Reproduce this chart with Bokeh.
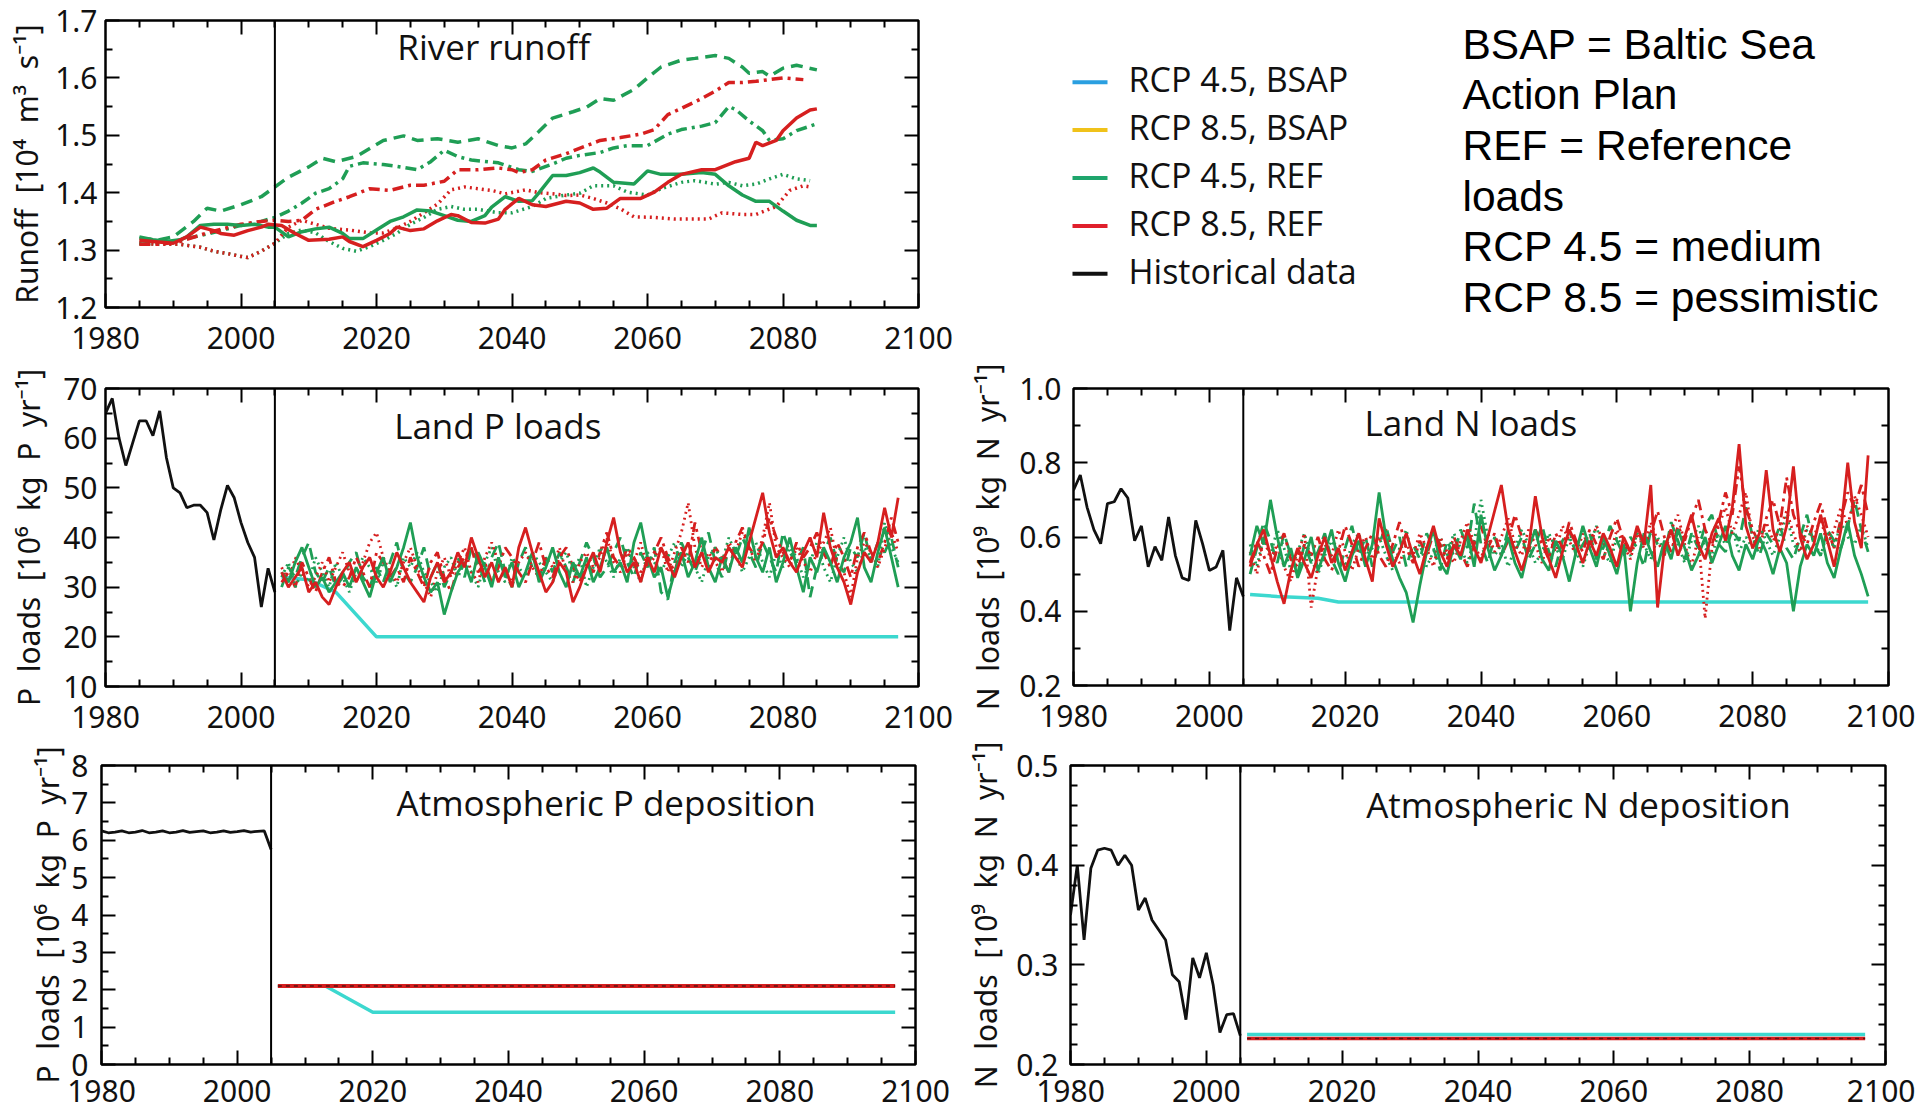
from bokeh.plotting import figure
from bokeh.models import (Range1d, LinearAxis, FixedTicker, PrintfTickFormatter, Grid,
                          Span, Label)
from bokeh.layouts import column, row
from bokeh.embed import file_html
from bokeh.resources import INLINE

# ---------------------------------------------------------------- data
SPLIT_YEAR = 2005
YEARS_HIST = list(range(1980, 2006))
YEARS_PROJ = list(range(2006, 2098))

X_TICKS = [1980, 2000, 2020, 2040, 2060, 2080, 2100]
X_MINOR = [1985, 1990, 1995, 2005, 2010, 2015, 2025, 2030, 2035, 2045, 2050, 2055,
           2065, 2070, 2075, 2085, 2090, 2095]
RUNOFF_TICKS = [1.2, 1.3, 1.4, 1.5, 1.6, 1.7]
RUNOFF_MINOR = [1.25, 1.35, 1.45, 1.55, 1.65]
LANDP_TICKS = [10, 20, 30, 40, 50, 60, 70]
LANDP_MINOR = [15, 25, 35, 45, 55, 65]
LANDN_TICKS = [0.2, 0.4, 0.6, 0.8, 1.0]
LANDN_MINOR = [0.3, 0.5, 0.7, 0.9]
ATMP_TICKS = [0, 1, 2, 3, 4, 5, 6, 7, 8]
ATMP_MINOR = [0.5, 1.5, 2.5, 3.5, 4.5, 5.5, 6.5, 7.5]
ATMN_TICKS = [0.2, 0.3, 0.4, 0.5]
ATMN_MINOR = [0.22, 0.24, 0.26, 0.28, 0.32, 0.34, 0.36, 0.38, 0.42, 0.44, 0.46, 0.48]

# River runoff (10^4 m3 s-1), (year, value) pairs
RUNOFF_G_SOLID = [(1985,1.323),(1987,1.318),(1989,1.315),(1991,1.318),(1992,1.323),(1994,1.343),(1996,1.345),(1998,1.345),(2000,1.343),(2002,1.345),(2004,1.340),(2005,1.340),(2007,1.323),(2009,1.332),(2011,1.337),(2013,1.340),(2015,1.329),(2016,1.320),(2018,1.320),(2020,1.335),(2022,1.350),(2024,1.358),(2026,1.370),(2028,1.368),(2030,1.360),(2032,1.352),(2034,1.350),(2036,1.360),(2037,1.375),(2039,1.393),(2041,1.385),(2043,1.386),(2044,1.400),(2046,1.430),(2048,1.430),(2050,1.435),(2052,1.443),(2053,1.436),(2055,1.418),(2058,1.415),(2060,1.438),(2062,1.432),(2065,1.432),(2068,1.435),(2070,1.432),(2072,1.412),(2074,1.396),(2076,1.385),(2078,1.385),(2080,1.368),(2082,1.352),(2084,1.343),(2085,1.343)]
RUNOFF_R_SOLID = [(1985,1.317),(1987,1.315),(1990,1.312),(1992,1.323),(1994,1.340),(1996,1.334),(1997,1.329),(1999,1.326),(2001,1.334),(2003,1.340),(2004,1.345),(2006,1.343),(2008,1.329),(2010,1.317),(2013,1.319),(2015,1.323),(2016,1.315),(2018,1.306),(2020,1.317),(2022,1.329),(2023,1.340),(2025,1.334),(2027,1.337),(2029,1.351),(2031,1.362),(2032,1.360),(2034,1.348),(2036,1.347),(2038,1.354),(2039,1.371),(2041,1.390),(2043,1.379),(2045,1.376),(2048,1.385),(2050,1.382),(2052,1.371),(2054,1.373),(2056,1.390),(2059,1.390),(2061,1.401),(2063,1.418),(2065,1.432),(2068,1.440),(2070,1.440),(2073,1.454),(2075,1.460),(2076,1.488),(2077,1.482),(2079,1.491),(2080,1.508),(2082,1.530),(2084,1.544),(2085,1.546)]
RUNOFF_G_DASH = [(1985,1.320),(1988,1.318),(1990,1.323),(1993,1.350),(1995,1.373),(1997,1.368),(2000,1.379),(2003,1.393),(2005,1.410),(2007,1.427),(2010,1.445),(2012,1.460),(2014,1.454),(2017,1.463),(2019,1.477),(2021,1.491),(2024,1.499),(2026,1.491),(2029,1.494),(2032,1.488),(2035,1.494),(2038,1.482),(2040,1.478),(2042,1.485),(2044,1.507),(2046,1.530),(2049,1.541),(2051,1.549),(2053,1.564),(2055,1.561),(2058,1.580),(2060,1.600),(2062,1.619),(2065,1.631),(2067,1.634),(2070,1.639),(2072,1.634),(2074,1.619),(2075,1.608),(2077,1.611),(2078,1.603),(2080,1.617),(2082,1.622),(2085,1.614)]
RUNOFF_R_DASHDOT = [(1985,1.310),(1988,1.310),(1991,1.315),(1995,1.330),(2000,1.345),(2003,1.350),(2005,1.352),(2007,1.350),(2009,1.352),(2011,1.371),(2014,1.385),(2016,1.393),(2019,1.407),(2022,1.404),(2025,1.413),(2027,1.413),(2030,1.420),(2032,1.440),(2035,1.440),(2038,1.443),(2040,1.440),(2041,1.435),(2043,1.440),(2045,1.457),(2048,1.468),(2051,1.482),(2053,1.491),(2056,1.496),(2059,1.502),(2061,1.510),(2063,1.536),(2065,1.547),(2068,1.564),(2070,1.577),(2072,1.592),(2074,1.592),(2076,1.594),(2078,1.597),(2080,1.600),(2083,1.597)]
RUNOFF_G_DASHDOT = [(1985,1.310),(1990,1.315),(1995,1.328),(2000,1.343),(2003,1.350),(2005,1.357),(2007,1.368),(2009,1.382),(2011,1.399),(2013,1.407),(2015,1.424),(2016,1.446),(2018,1.452),(2021,1.449),(2023,1.446),(2026,1.440),(2028,1.454),(2030,1.474),(2032,1.463),(2034,1.457),(2038,1.452),(2041,1.440),(2043,1.437),(2046,1.450),(2048,1.460),(2050,1.465),(2053,1.470),(2055,1.478),(2057,1.482),(2060,1.482),(2063,1.502),(2065,1.510),(2068,1.516),(2070,1.522),(2072,1.550),(2073,1.545),(2075,1.525),(2077,1.508),(2078,1.491),(2080,1.494),(2082,1.508),(2084,1.516),(2085,1.520)]
RUNOFF_G_DOT = [(1985,1.312),(1988,1.310),(1991,1.310),(1994,1.305),(1996,1.298),(1998,1.294),(2000,1.289),(2001,1.287),(2003,1.298),(2005,1.312),(2007,1.329),(2009,1.335),(2011,1.330),(2013,1.315),(2015,1.303),(2017,1.298),(2019,1.306),(2021,1.317),(2023,1.329),(2025,1.345),(2027,1.357),(2029,1.371),(2031,1.376),(2033,1.371),(2035,1.371),(2038,1.365),(2040,1.365),(2043,1.376),(2045,1.390),(2048,1.396),(2050,1.399),(2052,1.412),(2055,1.412),(2057,1.401),(2060,1.396),(2062,1.407),(2065,1.418),(2067,1.421),(2070,1.415),(2072,1.418),(2074,1.412),(2076,1.415),(2078,1.424),(2080,1.432),(2082,1.424),(2084,1.421)]
RUNOFF_R_DOT = [(1985,1.312),(1988,1.310),(1991,1.310),(1994,1.305),(1996,1.298),(1998,1.294),(2000,1.289),(2001,1.287),(2003,1.298),(2005,1.312),(2007,1.340),(2009,1.352),(2011,1.345),(2013,1.338),(2016,1.335),(2019,1.330),(2021,1.330),(2023,1.338),(2025,1.350),(2027,1.365),(2029,1.380),(2031,1.405),(2033,1.410),(2035,1.407),(2037,1.404),(2039,1.398),(2042,1.405),(2044,1.400),(2046,1.398),(2048,1.395),(2050,1.396),(2052,1.390),(2054,1.382),(2056,1.372),(2058,1.358),(2061,1.357),(2064,1.354),(2067,1.354),(2069,1.354),(2071,1.365),(2074,1.362),(2076,1.362),(2079,1.376),(2081,1.404),(2083,1.412),(2084,1.410)]

# Land P loads (10^6 kg P yr-1)
LANDP_HIST = [65, 68, 60, 54.5, 59, 63.5, 63.5, 60.5, 65.5, 56, 50, 49, 46, 46.5, 46.5, 45, 39.5, 45.5, 50.5, 48, 43, 39, 36, 26, 33.8, 29]
LANDP_G_SOLID = [33, 31, 35, 38, 34, 30, 32, 29, 31, 33,
                 30, 34, 31, 28, 33, 36, 31, 34, 38, 43,
                 36, 32, 29, 31, 24.5, 29, 33, 35, 31, 37,
                 34, 30, 36, 32, 35, 30, 33, 37, 31, 34,
                 38, 33, 30, 35, 32, 36, 31, 34, 38, 33,
                 35, 31, 39, 43, 36, 32, 34, 28, 33, 37,
                 32, 35, 40, 34, 31, 36, 33, 38, 35, 42,
                 36, 33, 38, 31, 35, 40, 34, 29, 36, 33,
                 38, 35, 31, 36, 39, 44, 34, 31, 37, 42,
                 36, 30]
LANDP_G_DASH = [30, 34, 32, 36, 39, 33, 31, 34, 30, 32,
                35, 37, 32, 30, 34, 31, 35, 39, 33, 31,
                34, 38, 32, 35, 30, 33, 36, 32, 38, 35,
                31, 36, 39, 33, 30, 35, 38, 34, 32, 36,
                33, 37, 34, 31, 35, 39, 36, 32, 34, 37,
                40, 35, 32, 37, 34, 38, 29, 27.5, 35, 39,
                36, 33, 37, 41, 35, 32, 38, 36, 40, 37,
                34, 39, 36, 33, 41, 37, 35, 38, 28, 34,
                37, 40, 35, 33, 38, 36, 41, 35, 39, 37,
                40, 34]
LANDP_G_DOT = [32, 35, 30, 33, 31, 36, 33, 30, 35, 32,
               29, 33, 36, 34, 31, 35, 33, 30, 36, 34,
               37, 33, 31, 29, 34, 36, 32, 35, 33, 30,
               35, 38, 33, 31, 36, 34, 32, 37, 35, 33,
               31, 35, 37, 33, 36, 30, 34, 38, 35, 32,
               36, 38, 34, 31, 37, 35, 33, 36, 39, 34,
               37, 34, 31, 36, 38, 35, 40, 37, 33, 36,
               39, 35, 32, 37, 34, 38, 36, 32, 35, 39,
               34, 31, 36, 40, 35, 33, 38, 36, 34, 43,
               38, 35]
LANDP_R_SOLID = [33, 30, 32, 34, 29, 31, 28, 26.5, 30, 33,
                 35, 31, 34, 36, 32, 30, 33, 37, 34, 31,
                 29, 27, 32, 35, 31, 33, 37, 34, 40, 36,
                 32, 35, 31, 34, 30, 38, 42, 37, 33, 29,
                 31, 35, 33, 27, 30, 34, 37, 33, 39, 44,
                 37, 33, 35, 31, 36, 33, 38, 35, 32, 36,
                 39, 34, 37, 33, 36, 35, 38, 36, 34, 39,
                 44, 49, 41, 36, 38, 35, 33, 37, 40, 36,
                 45, 38, 34, 31, 26.5, 33, 37, 35, 39, 46,
                 40, 48]
LANDP_R_DOT = [34, 31, 36, 33, 30, 32, 35, 31, 34, 37,
               33, 31, 35, 39, 41, 36, 33, 31, 35, 38,
               34, 31, 28, 33, 36, 32, 35, 38, 33, 31,
               36, 39, 35, 33, 31, 35, 37, 34, 32, 36,
               34, 38, 33, 31, 35, 37, 34, 36, 40, 35,
               33, 37, 35, 39, 34, 36, 38, 33, 37, 41,
               47, 38, 34, 37, 35, 33, 39, 37, 41, 38,
               35, 40, 47, 38, 36, 34, 38, 35, 33, 37,
               39, 42, 35, 33, 28, 36, 39, 37, 34, 38,
               41, 37]
LANDP_R_DASHDOT = [31, 33, 30, 35, 32, 29, 33, 36, 31, 30,
                   32, 36, 33, 30, 37, 35, 32, 34, 31, 36,
                   33, 30, 35, 37, 32, 29, 34, 36, 38, 33,
                   35, 31, 34, 38, 36, 33, 31, 35, 39, 34,
                   32, 36, 38, 34, 31, 35, 33, 37, 41, 36,
                   34, 38, 36, 33, 35, 37, 40, 36, 33, 38,
                   35, 43, 37, 34, 38, 36, 33, 39, 42, 38,
                   36, 39, 44, 40, 37, 35, 39, 36, 38, 41,
                   37, 34, 39, 36, 32, 38, 41, 37, 35, 39,
                   44, 39]
LANDP_BSAP_YEARS = [2006, 2010, 2014, 2020, 2097]
LANDP_BSAP = [32, 31.5, 29, 20, 20]

# Land N loads (10^9 kg N yr-1)
LANDN_HIST = [0.726, 0.767, 0.68, 0.62, 0.582, 0.69, 0.695, 0.73, 0.705, 0.59, 0.63, 0.52, 0.574,
              0.537, 0.654, 0.55, 0.49, 0.483, 0.645, 0.582, 0.51, 0.519, 0.564, 0.348, 0.49, 0.44]
LANDN_G_SOLID = [0.55, 0.63, 0.58, 0.70, 0.60, 0.52, 0.57, 0.49, 0.54, 0.60,
                 0.51, 0.56, 0.62, 0.53, 0.48, 0.55, 0.59, 0.52, 0.58, 0.72,
                 0.60, 0.54, 0.49, 0.45, 0.37, 0.47, 0.56, 0.62, 0.53, 0.50,
                 0.58, 0.54, 0.61, 0.52, 0.66, 0.57, 0.51, 0.55, 0.60, 0.53,
                 0.49, 0.57, 0.62, 0.54, 0.51, 0.59, 0.55, 0.48, 0.56, 0.63,
                 0.57, 0.52, 0.60, 0.55, 0.50, 0.58, 0.40, 0.53, 0.61, 0.56,
                 0.52, 0.59, 0.54, 0.62, 0.57, 0.51, 0.55, 0.60, 0.53, 0.58,
                 0.63, 0.55, 0.51, 0.58, 0.54, 0.60, 0.56, 0.50, 0.57, 0.53,
                 0.40, 0.52, 0.58, 0.55, 0.61, 0.53, 0.49, 0.57, 0.64, 0.55,
                 0.50, 0.44]
LANDN_G_DASH = [0.50, 0.57, 0.64, 0.59, 0.53, 0.61, 0.55, 0.50, 0.58, 0.53,
                0.56, 0.61, 0.54, 0.50, 0.57, 0.63, 0.55, 0.60, 0.52, 0.58,
                0.63, 0.56, 0.60, 0.52, 0.58, 0.54, 0.61, 0.57, 0.51, 0.59,
                0.55, 0.62, 0.57, 0.69, 0.58, 0.53, 0.60, 0.55, 0.62, 0.56,
                0.60, 0.54, 0.58, 0.63, 0.56, 0.52, 0.59, 0.62, 0.55, 0.58,
                0.61, 0.54, 0.57, 0.63, 0.59, 0.55, 0.60, 0.57, 0.52, 0.62,
                0.58, 0.55, 0.64, 0.59, 0.54, 0.61, 0.57, 0.63, 0.66, 0.58,
                0.56, 0.62, 0.59, 0.68, 0.60, 0.55, 0.61, 0.58, 0.63, 0.57,
                0.54, 0.60, 0.66, 0.58, 0.55, 0.62, 0.59, 0.57, 0.63, 0.70,
                0.62, 0.56]
LANDN_G_DOT = [0.58, 0.52, 0.60, 0.55, 0.62, 0.57, 0.51, 0.56, 0.61, 0.54,
               0.50, 0.55, 0.59, 0.56, 0.52, 0.58, 0.61, 0.55, 0.57, 0.60,
               0.55, 0.51, 0.57, 0.62, 0.54, 0.58, 0.52, 0.56, 0.60, 0.55,
               0.61, 0.57, 0.53, 0.59, 0.70, 0.60, 0.55, 0.58, 0.52, 0.57,
               0.62, 0.58, 0.53, 0.56, 0.61, 0.57, 0.54, 0.60, 0.56, 0.52,
               0.58, 0.63, 0.56, 0.53, 0.60, 0.57, 0.55, 0.61, 0.58, 0.54,
               0.60, 0.56, 0.62, 0.58, 0.53, 0.59, 0.63, 0.57, 0.55, 0.61,
               0.58, 0.62, 0.56, 0.60, 0.57, 0.63, 0.59, 0.55, 0.60, 0.66,
               0.58, 0.56, 0.62, 0.59, 0.55, 0.61, 0.57, 0.64, 0.60, 0.58,
               0.63, 0.57]
LANDN_R_SOLID = [0.52, 0.58, 0.62, 0.55, 0.48, 0.42, 0.51, 0.57, 0.53, 0.49,
                 0.55, 0.60, 0.53, 0.57, 0.51, 0.56, 0.61, 0.54, 0.48, 0.65,
                 0.58, 0.52, 0.56, 0.61, 0.55, 0.50, 0.57, 0.63, 0.56, 0.52,
                 0.58, 0.55, 0.62, 0.57, 0.53, 0.60, 0.67, 0.74, 0.62, 0.56,
                 0.51, 0.57, 0.71, 0.60, 0.54, 0.49, 0.56, 0.62, 0.58, 0.53,
                 0.59, 0.55, 0.61, 0.57, 0.52, 0.60, 0.56, 0.63, 0.58, 0.74,
                 0.41, 0.57, 0.62, 0.55, 0.60, 0.66, 0.58, 0.54, 0.61, 0.65,
                 0.59, 0.68, 0.85, 0.63, 0.57, 0.61, 0.78, 0.62, 0.56, 0.63,
                 0.79, 0.60, 0.54, 0.58, 0.66, 0.59, 0.52, 0.62, 0.80, 0.64,
                 0.57, 0.82]
LANDN_R_DOT = [0.56, 0.50, 0.60, 0.54, 0.58, 0.52, 0.48, 0.55, 0.61, 0.41,
               0.52, 0.58, 0.55, 0.62, 0.56, 0.51, 0.57, 0.60, 0.54, 0.59,
               0.62, 0.56, 0.53, 0.58, 0.55, 0.61, 0.57, 0.52, 0.60, 0.56,
               0.53, 0.59, 0.64, 0.58, 0.54, 0.61, 0.56, 0.60, 0.65, 0.58,
               0.55, 0.62, 0.58, 0.53, 0.60, 0.56, 0.63, 0.59, 0.55, 0.61,
               0.57, 0.63, 0.59, 0.55, 0.62, 0.58, 0.54, 0.61, 0.57, 0.64,
               0.59, 0.55, 0.62, 0.66, 0.58, 0.52, 0.60, 0.38, 0.57, 0.63,
               0.68, 0.61, 0.66, 0.72, 0.60, 0.57, 0.64, 0.59, 0.62, 0.67,
               0.61, 0.56, 0.63, 0.60, 0.65, 0.58, 0.62, 0.68, 0.63, 0.71,
               0.66, 0.60]
LANDN_R_DASHDOT = [0.53, 0.59, 0.55, 0.50, 0.57, 0.61, 0.54, 0.52, 0.58, 0.55,
                   0.60, 0.54, 0.51, 0.56, 0.63, 0.58, 0.52, 0.57, 0.61, 0.55,
                   0.52, 0.58, 0.64, 0.57, 0.53, 0.59, 0.55, 0.61, 0.58, 0.54,
                   0.60, 0.56, 0.52, 0.58, 0.63, 0.57, 0.61, 0.55, 0.59, 0.66,
                   0.60, 0.56, 0.62, 0.58, 0.54, 0.61, 0.57, 0.64, 0.59, 0.56,
                   0.62, 0.58, 0.54, 0.60, 0.65, 0.59, 0.56, 0.62, 0.58, 0.61,
                   0.67, 0.60, 0.56, 0.63, 0.59, 0.65, 0.70, 0.62, 0.58, 0.64,
                   0.72, 0.66, 0.79, 0.68, 0.62, 0.58, 0.65, 0.70, 0.63, 0.76,
                   0.66, 0.61, 0.58, 0.64, 0.69, 0.62, 0.57, 0.65, 0.72, 0.68,
                   0.74, 0.66]
LANDN_BSAP_YEARS = [2006, 2010, 2016, 2019, 2097]
LANDN_BSAP = [0.445, 0.440, 0.435, 0.425, 0.425]

# Atmospheric P deposition (10^6 kg P yr-1)
ATMP_HIST = [6.25, 6.20, 6.22, 6.25, 6.20, 6.22, 6.26, 6.20, 6.22, 6.25, 6.20, 6.22, 6.26,
             6.21, 6.23, 6.25, 6.20, 6.22, 6.25, 6.21, 6.23, 6.26, 6.22, 6.24, 6.25, 5.75]
ATMP_REF_YEARS = [2006, 2097]
ATMP_REF = [2.1, 2.1]
ATMP_BSAP_YEARS = [2006, 2013, 2020, 2097]
ATMP_BSAP = [2.1, 2.1, 1.4, 1.4]

# Atmospheric N deposition (10^9 kg N yr-1)
ATMN_HIST = [0.35, 0.40, 0.325, 0.397, 0.415, 0.417, 0.415, 0.40, 0.41, 0.40, 0.355, 0.367, 0.345,
             0.335, 0.325, 0.29, 0.283, 0.245, 0.307, 0.287, 0.312, 0.28, 0.232, 0.25, 0.251, 0.229]
ATMN_REF_YEARS = [2006, 2097]
ATMN_REF = [0.226, 0.226]
ATMN_BSAP_YEARS = [2006, 2097]
ATMN_BSAP = [0.230, 0.230]

LEGEND_LABELS = ["RCP 4.5, BSAP", "RCP 8.5, BSAP", "RCP 4.5, REF", "RCP 8.5, REF", "Historical data"]
NOTE_LINES = ["BSAP = Baltic Sea", "Action Plan", "REF = Reference", "loads",
              "RCP 4.5 = medium", "RCP 8.5 = pessimistic"]

# ---------------------------------------------------------------- style
GREEN = "#1f9e55"
RED = "#d61f1f"
CYAN = "#3cd8cf"
BLACK = "#111111"
LEG_COLORS = ["#2a9fe0", "#f0c21a", "#1ea56c", "#e01f2b", "#111111"]
TICK_FONT = "Noto Sans"
TITLE_FONT = "Open Sans"
DOT = "2 4"
DASH = "12 7"
DASHDOT = "11 5 3 5"
SP = "\u00a0\u00a0"


def unzip(pairs):
    return [a for a, _ in pairs], [b for _, b in pairs]


def style_axis(ax, standoff):
    ax.axis_line_color = None
    ax.major_tick_in = 14
    ax.major_tick_out = 0
    ax.minor_tick_in = 7
    ax.minor_tick_out = 0
    ax.major_tick_line_width = 2
    ax.minor_tick_line_width = 2
    ax.major_tick_line_color = "black"
    ax.minor_tick_line_color = "black"
    ax.major_label_text_font = TICK_FONT
    ax.major_label_text_color = "#111111"
    ax.major_label_text_font_size = "30px"
    ax.major_label_standoff = standoff


def mirror(p, ticks, minor, dim, lo, hi, frame_px):
    # tick marks on the top / right frame edges, drawn as short grid lines
    for tk, length in ((ticks, 14), (minor, 7)):
        d = length / frame_px * (hi - lo)
        p.add_layout(Grid(dimension=dim, ticker=FixedTicker(ticks=tk), cross_bounds=(hi - d, hi),
                          grid_line_color="black", grid_line_width=2, level="overlay"))


def panel(width, height, borders, fw, fh, yr, yticks, yminor, yfmt, ylabel, ystand, xstand, lstand):
    left, right, top, bottom = borders
    p = figure(width=width, height=height, x_range=Range1d(1980, 2100), y_range=Range1d(*yr),
               output_backend="svg", toolbar_location=None, x_axis_type=None, y_axis_type=None,
               min_border_left=left, min_border_right=right, min_border_top=top,
               min_border_bottom=bottom, frame_width=fw, frame_height=fh)
    p.outline_line_color = "black"
    p.outline_line_width = 2.5
    p.background_fill_color = "white"
    p.border_fill_color = "white"
    xb = LinearAxis(ticker=FixedTicker(ticks=X_TICKS, minor_ticks=X_MINOR))
    style_axis(xb, xstand)
    p.add_layout(xb, "below")
    yl = LinearAxis(ticker=FixedTicker(ticks=yticks, minor_ticks=yminor),
                    formatter=PrintfTickFormatter(format=yfmt))
    style_axis(yl, ystand)
    yl.axis_label = ylabel
    yl.axis_label_text_font = TICK_FONT
    yl.axis_label_text_font_size = "30px"
    yl.axis_label_text_font_style = "normal"
    yl.axis_label_text_color = "#111111"
    yl.axis_label_standoff = lstand
    p.add_layout(yl, "left")
    mirror(p, X_TICKS, X_MINOR, 0, yr[0], yr[1], fh)
    mirror(p, yticks, yminor, 1, 1980, 2100, fw)
    p.add_layout(Span(location=SPLIT_YEAR, dimension="height", line_color="black", line_width=2))
    return p


def title(p, x, y, text):
    p.add_layout(Label(x=x, y=y, text=text, text_font=TITLE_FONT, text_font_size="35px",
                       text_align="center", text_baseline="alphabetic", text_color="#111111"))


# ---------------------------------------------------------------- River runoff
P1_TOP, P1_FH = 20, 287
p1 = panel(958, 357, (105, 40, P1_TOP, 50), 813, P1_FH, (1.2, 1.7),
           RUNOFF_TICKS, RUNOFF_MINOR, "%.1f",
           SP.join(["Runoff", "[10\u2074", "m\u00b3", "s\u207b\u00b9]"]), 8, 19, 5)
for pairs, col, dash in [(RUNOFF_G_DOT, GREEN, DOT), (RUNOFF_R_DOT, RED, DOT),
                         (RUNOFF_G_DASHDOT, GREEN, DASHDOT), (RUNOFF_R_DASHDOT, RED, DASHDOT),
                         (RUNOFF_G_DASH, GREEN, DASH), (RUNOFF_G_SOLID, GREEN, "solid"),
                         (RUNOFF_R_SOLID, RED, "solid")]:
    xs, ys = unzip(pairs)
    p1.line(xs, ys, line_color=col, line_width=3.5, line_dash=dash)
title(p1, 2037.3, 1.6547, "River runoff")

# ---------------------------------------------------------------- legend / notes panel
# a blank canvas whose data units are page pixels (x from the left, y from the top)
LEG_X0 = 958
LEG_DY = 20        # measured vertical offset of this canvas' frame
TXT_DY = 13        # measured extra baseline offset of the text labels
pleg = figure(width=957, height=357, frame_width=957, frame_height=357, title=None,
              x_range=Range1d(LEG_X0, LEG_X0 + 957), y_range=Range1d(357, 0),
              output_backend="svg", toolbar_location=None, x_axis_type=None, y_axis_type=None,
              min_border_left=0, min_border_right=0, min_border_top=0, min_border_bottom=0)
pleg.outline_line_color = None
pleg.background_fill_color = "white"
pleg.border_fill_color = "white"
for i, (lab, col) in enumerate(zip(LEGEND_LABELS, LEG_COLORS)):
    base = 91.7 + 47.9 * i
    pleg.segment(x0=[1072], x1=[1107], y0=[base - 10 - LEG_DY], y1=[base - 10 - LEG_DY],
                 line_color=col, line_width=4)
    pleg.add_layout(Label(x=1128, y=base - LEG_DY - TXT_DY, text=lab, text_font=TITLE_FONT,
                          text_font_size="34px", text_baseline="alphabetic", text_color="#111111"))
for i, line in enumerate(NOTE_LINES):
    pleg.add_layout(Label(x=1462, y=56.7 + 50.6 * i - LEG_DY - TXT_DY, text=line,
                          text_font="Liberation Sans", text_font_size="42.5px",
                          text_baseline="alphabetic", text_color="black"))

# ---------------------------------------------------------------- Land P loads
p2 = panel(958, 379, (105, 40, 31, 50), 813, 298, (10, 70), LANDP_TICKS, LANDP_MINOR, "%d",
           SP.join(["P", "loads", "[10\u2076", "kg", "P", "yr\u207b\u00b9]"]), 8, 19, 11)
p2.line(YEARS_HIST, LANDP_HIST, line_color=BLACK, line_width=2.8)
p2.line(LANDP_BSAP_YEARS, LANDP_BSAP, line_color=CYAN, line_width=3.5)
for vals, col, dash in [(LANDP_G_DASH, GREEN, DASH), (LANDP_R_DASHDOT, RED, DASHDOT),
                        (LANDP_G_DOT, GREEN, DOT), (LANDP_R_DOT, RED, DOT),
                        (LANDP_G_SOLID, GREEN, "solid"), (LANDP_R_SOLID, RED, "solid")]:
    p2.line(YEARS_PROJ, vals, line_color=col, line_width=2.8, line_dash=dash)
title(p2, 2037.9, 62.55, "Land P loads")

# ---------------------------------------------------------------- Land N loads
p3 = panel(957, 379, (115, 27, 31, 51), 815, 297, (0.2, 1.0), LANDN_TICKS, LANDN_MINOR, "%.1f",
           SP.join(["N", "loads", "[10\u2079", "kg", "N", "yr\u207b\u00b9]"]), 12, 19, 8)
p3.line(YEARS_HIST, LANDN_HIST, line_color=BLACK, line_width=2.8)
p3.line(LANDN_BSAP_YEARS, LANDN_BSAP, line_color=CYAN, line_width=3.5)
for vals, col, dash in [(LANDN_G_DASH, GREEN, DASH), (LANDN_R_DASHDOT, RED, DASHDOT),
                        (LANDN_G_DOT, GREEN, DOT), (LANDN_R_DOT, RED, DOT),
                        (LANDN_G_SOLID, GREEN, "solid"), (LANDN_R_SOLID, RED, "solid")]:
    p3.line(YEARS_PROJ, vals, line_color=col, line_width=2.8, line_dash=dash)
title(p3, 2038.5, 0.908, "Land N loads")

# ---------------------------------------------------------------- Atmospheric P
p4 = panel(958, 374, (101, 43, 29, 46), 814, 299, (0, 8), ATMP_TICKS, ATMP_MINOR, "%d",
           SP.join(["P", "loads", "[10\u2076", "kg", "P", "yr\u207b\u00b9]"]), 13, 15, 0)
p4.line(YEARS_HIST, ATMP_HIST, line_color=BLACK, line_width=2.8)
p4.line(ATMP_BSAP_YEARS, ATMP_BSAP, line_color=CYAN, line_width=3.5)
p4.line(ATMP_REF_YEARS, ATMP_REF, line_color=RED, line_width=4)
p4.line(ATMP_REF_YEARS, ATMP_REF, line_color="#5a1212", line_width=1.5, line_dash="4 4")
title(p4, 2054.4, 7.01, "Atmospheric P deposition")

# ---------------------------------------------------------------- Atmospheric N
p5 = panel(957, 374, (112, 30, 28, 47), 815, 299, (0.2, 0.5), ATMN_TICKS, ATMN_MINOR, "%.1f",
           SP.join(["N", "loads", "[10\u2079", "kg", "N", "yr\u207b\u00b9]"]), 12, 15, 7)
p5.line(YEARS_HIST, ATMN_HIST, line_color=BLACK, line_width=2.8)
p5.line(ATMN_BSAP_YEARS, ATMN_BSAP, line_color=CYAN, line_width=3.5)
p5.line(ATMN_REF_YEARS, ATMN_REF, line_color=RED, line_width=3.5)
p5.line(ATMN_REF_YEARS, ATMN_REF, line_color="#5a1212", line_width=1.5, line_dash="4 4")
title(p5, 2054.8, 0.461, "Atmospheric N deposition")

layout = column(row(p1, pleg), row(p2, p3), row(p4, p5))
open("out.html", "w").write(file_html(layout, INLINE))
